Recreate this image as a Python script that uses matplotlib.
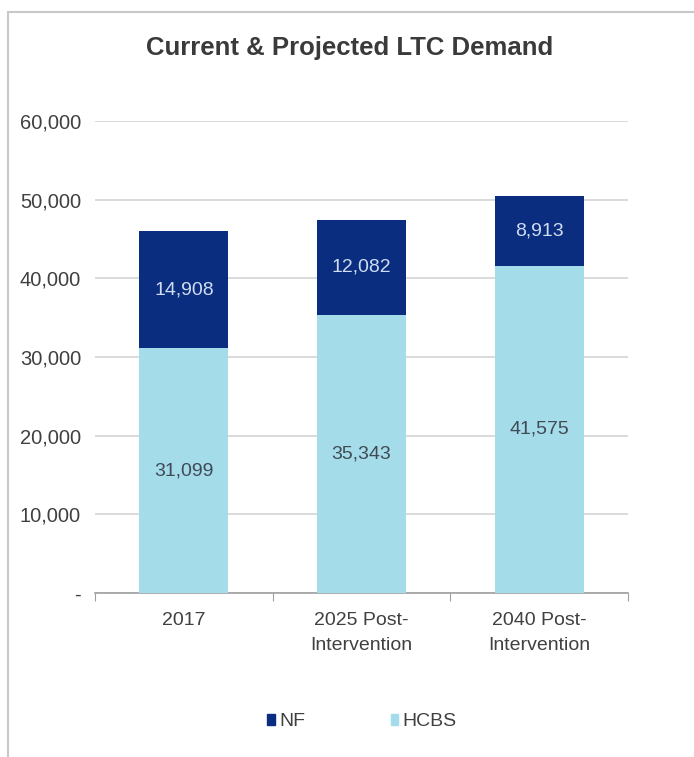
import matplotlib.pyplot as plt
from matplotlib.patches import Rectangle

categories = ["2017", "2025 Post-\nIntervention", "2040 Post-\nIntervention"]
hcbs = [31099, 35343, 41575]
nf = [14908, 12082, 8913]

plt.rcParams['font.family'] = ['Liberation Sans', 'DejaVu Sans']

navy = '#0b2d80'
light = '#a5dcea'

fig = plt.figure(figsize=(6.94, 7.57), dpi=100)
ax = fig.add_axes([95/694, 1-593/757, 533/694, (593-121)/757])

x = range(len(categories))
ax.bar(x, hcbs, width=0.5, color=light, zorder=3)
ax.bar(x, nf, width=0.5, bottom=hcbs, color=navy, zorder=3)

for i in x:
    ax.text(i, hcbs[i] / 2, f"{hcbs[i]:,}", ha='center', va='center',
            fontsize=14, color='#404a55', zorder=4)
    ax.text(i, hcbs[i] + nf[i] / 2, f"{nf[i]:,}", ha='center', va='center',
            fontsize=14, color='#d0ddf0', zorder=4)

ax.set_xlim(-0.5, 2.5)
ax.set_ylim(0, 60000)
ax.set_yticks(range(0, 60001, 10000))
ax.set_yticklabels(['-'] + [f"{v:,}" for v in range(10000, 60001, 10000)],
                   fontsize=14.5, color='#404040')
ax.yaxis.grid(True, color='#d4d4d4', linewidth=1.2, zorder=0)
ax.tick_params(axis='y', length=0, pad=10)

ax.set_xticks([-0.5, 0.5, 1.5, 2.5], minor=False)
ax.set_xticklabels([])
ax.set_xticks(list(x), minor=True)
ax.set_xticklabels(categories, minor=True, fontsize=14, color='#404040', linespacing=1.55)
ax.tick_params(axis='x', which='major', length=6, color='#a0a0a0')
ax.tick_params(axis='x', which='minor', length=0, pad=14)

for s in ['top', 'right', 'left']:
    ax.spines[s].set_visible(False)
ax.spines['bottom'].set_color('#a0a0a0')
ax.spines['bottom'].set_linewidth(1.2)

fig.text(350/694, 1-48/757, "Current & Projected LTC Demand", ha='center', va='center',
         fontsize=18.5, fontweight='bold', color='#3a3a3a')

h1 = Rectangle((0, 0), 1, 1, color=navy)
h2 = Rectangle((0, 0), 1, 1, color=light)
fig.legend([h1, h2], ["NF", "HCBS"], loc='center', bbox_to_anchor=(362/694, 1-722/757),
           ncol=2, frameon=False, fontsize=14, handlelength=0.4, handleheight=0.5,
           handletextpad=0.2, columnspacing=4.4, labelcolor='#404040')

fig.patches.append(Rectangle((8/694, -0.1), 1.2, 1 - 12/757 + 0.1, transform=fig.transFigure,
                             fill=False, edgecolor='#c8c8c8', linewidth=1.5))

fig.savefig("out.png", dpi=100)
